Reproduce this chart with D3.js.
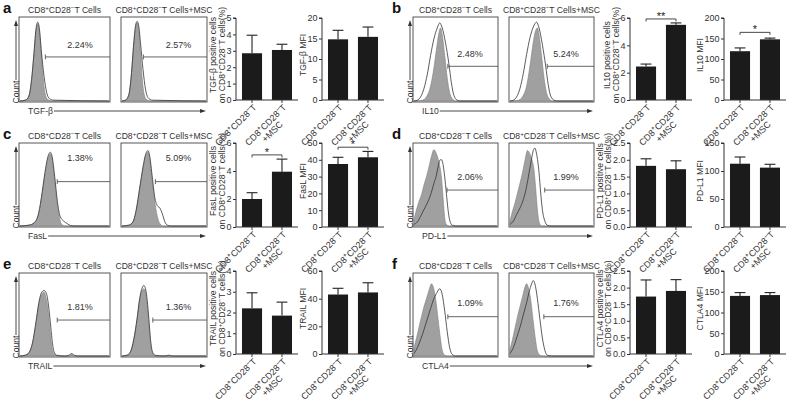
<!DOCTYPE html>
<html><head><meta charset="utf-8">
<script src="https://cdn.jsdelivr.net/npm/d3@7"></script>
<style>
html,body{margin:0;padding:0;background:#fff;}
svg{display:block;font-family:Arial,"Liberation Sans",Helvetica,sans-serif;}
</style></head><body>
<svg id="fig" width="789" height="403"></svg>
<script>
// ---------------- DATA ----------------
const panelLetters = ["a","b","c","d","e","f"];
const markers = ["TGF-β","IL10","FasL","PD-L1","TRAIL","CTLA4"];
const histTitles = ["CD8^+CD28^−T Cells","CD8^+CD28^−T Cells+MSC"];
const categories = ["CD8^+CD28^−T","CD8^+CD28^−T|+MSC"];
const gatePctCtrl = ["2.24%","2.48%","1.38%","2.06%","1.81%","1.09%"];
const gatePctMsc  = ["2.57%","5.24%","5.09%","1.99%","1.36%","1.76%"];

// percentage of positive cells (mean, SEM)
const posMean = [[2.85,3.05],[2.45,5.5],[2.0,3.95],[1.82,1.72],[2.2,1.85],[1.73,1.9]];
const posErr  = [[1.1,0.35],[0.18,0.14],[0.45,0.9],[0.21,0.25],[0.75,0.65],[0.5,0.34]];
const posMax  = [5,6,6,2.5,4,2.5];
const posTicks = [[0,1,2,3,4,5],[0,2,4,6],[0,2,4,6],[0,0.5,1,1.5,2,2.5],[0,1,2,3,4],[0,0.5,1,1.5,2,2.5]];
const posSig = ["","**","*","","",""];
const posSigLevel = [null,5.93,5.15,null,null,null];

// MFI (mean, SEM)
const mfiMean = [[14.8,15.4],[119,148],[37.5,41.5],[113,106],[43,44.5],[140,142]];
const mfiErr  = [[2.2,2.4],[8,3],[4,3.5],[12,6],[4.5,7],[8,6]];
const mfiMax  = [20,200,50,150,60,200];
const mfiTicks = [[0,5,10,15,20],[0,50,100,150,200],[0,10,20,30,40,50],[0,50,100,150],[0,20,40,60],[0,50,100,150,200]];
const mfiSig = ["","*","*","","",""];
const mfiSigLevel = [null,165,47.5,null,null,null];

// flow histograms: [relative fluorescence (log scale 0-1), relative count 0-1]
const histCtrlFill = [
 [[0,0],[0.06,0.01],[0.1,0.06],[0.13,0.25],[0.16,0.6],[0.18,0.85],[0.2,0.93],[0.22,0.82],[0.24,0.55],[0.26,0.28],[0.28,0.1],[0.31,0.02],[0.36,0],[1,0]],
 [[0,0],[0.1,0.01],[0.15,0.05],[0.2,0.18],[0.24,0.4],[0.27,0.62],[0.3,0.82],[0.32,0.88],[0.34,0.8],[0.37,0.55],[0.4,0.28],[0.43,0.1],[0.46,0.03],[0.5,0],[1,0]],
 [[0,0],[0.1,0.01],[0.16,0.04],[0.21,0.15],[0.25,0.4],[0.28,0.62],[0.31,0.8],[0.34,0.88],[0.36,0.82],[0.39,0.55],[0.42,0.25],[0.45,0.07],[0.48,0.01],[0.52,0],[1,0]],
 [[0,0.08],[0.03,0.2],[0.06,0.3],[0.09,0.38],[0.12,0.5],[0.15,0.6],[0.18,0.72],[0.21,0.85],[0.24,0.93],[0.27,0.88],[0.3,0.78],[0.33,0.6],[0.35,0.35],[0.37,0.1],[0.39,0.02],[0.42,0],[1,0]],
 [[0,0],[0.06,0.01],[0.1,0.04],[0.14,0.15],[0.18,0.4],[0.21,0.62],[0.24,0.74],[0.27,0.78],[0.29,0.72],[0.31,0.6],[0.33,0.4],[0.35,0.18],[0.37,0.05],[0.4,0.01],[0.45,0],[0.55,0],[0.58,0.02],[0.61,0],[1,0]],
 [[0,0.1],[0.03,0.22],[0.06,0.35],[0.09,0.48],[0.12,0.6],[0.15,0.7],[0.18,0.8],[0.21,0.88],[0.23,0.85],[0.26,0.7],[0.29,0.45],[0.32,0.2],[0.34,0.07],[0.37,0.01],[0.4,0],[1,0]]
];
const histCtrlLine = [
 [[0,0],[0.06,0.01],[0.1,0.06],[0.13,0.26],[0.16,0.62],[0.18,0.87],[0.2,0.95],[0.22,0.85],[0.24,0.6],[0.27,0.3],[0.3,0.1],[0.33,0.03],[0.38,0.01],[1,0]],
 [[0,0],[0.04,0.01],[0.08,0.05],[0.12,0.15],[0.16,0.32],[0.2,0.55],[0.24,0.75],[0.28,0.88],[0.31,0.94],[0.34,0.88],[0.38,0.7],[0.42,0.45],[0.45,0.22],[0.48,0.07],[0.52,0.01],[0.56,0],[1,0]],
 [[0,0],[0.1,0.01],[0.16,0.04],[0.21,0.16],[0.25,0.42],[0.28,0.65],[0.31,0.83],[0.34,0.9],[0.36,0.85],[0.39,0.6],[0.42,0.3],[0.45,0.12],[0.49,0.06],[0.53,0.03],[0.57,0.005],[0.62,0],[1,0]],
 [[0,0.02],[0.04,0.05],[0.08,0.12],[0.12,0.2],[0.16,0.28],[0.2,0.38],[0.24,0.52],[0.27,0.62],[0.29,0.72],[0.31,0.8],[0.33,0.81],[0.35,0.75],[0.37,0.6],[0.39,0.4],[0.41,0.2],[0.43,0.07],[0.46,0.01],[0.5,0],[1,0]],
 [[0,0],[0.06,0.01],[0.1,0.04],[0.14,0.16],[0.18,0.42],[0.21,0.64],[0.24,0.77],[0.27,0.8],[0.3,0.75],[0.32,0.62],[0.34,0.42],[0.36,0.2],[0.38,0.06],[0.41,0.01],[0.5,0],[0.55,0.01],[0.58,0.03],[0.61,0.01],[0.65,0],[1,0]],
 [[0,0.03],[0.04,0.1],[0.08,0.2],[0.12,0.32],[0.16,0.45],[0.2,0.58],[0.24,0.7],[0.28,0.78],[0.31,0.82],[0.34,0.75],[0.37,0.55],[0.4,0.3],[0.43,0.1],[0.46,0.02],[0.5,0],[1,0]]
];
const histMscFill = [
 [[0,0],[0.04,0.01],[0.08,0.07],[0.11,0.3],[0.14,0.68],[0.16,0.88],[0.18,0.94],[0.2,0.85],[0.22,0.58],[0.24,0.28],[0.26,0.1],[0.29,0.02],[0.34,0],[1,0]],
 [[0,0],[0.1,0.01],[0.15,0.05],[0.2,0.18],[0.24,0.42],[0.27,0.64],[0.3,0.82],[0.33,0.88],[0.35,0.8],[0.38,0.55],[0.41,0.28],[0.44,0.1],[0.47,0.03],[0.51,0],[1,0]],
 [[0,0],[0.08,0.01],[0.13,0.05],[0.17,0.2],[0.21,0.45],[0.25,0.7],[0.28,0.85],[0.31,0.9],[0.33,0.82],[0.36,0.55],[0.39,0.3],[0.42,0.12],[0.45,0.03],[0.49,0],[1,0]],
 [[0,0.06],[0.03,0.18],[0.06,0.28],[0.09,0.4],[0.12,0.52],[0.15,0.65],[0.18,0.8],[0.21,0.92],[0.23,0.9],[0.26,0.82],[0.29,0.68],[0.31,0.45],[0.33,0.2],[0.35,0.05],[0.38,0],[1,0]],
 [[0,0],[0.06,0.01],[0.1,0.05],[0.14,0.2],[0.18,0.45],[0.21,0.68],[0.24,0.8],[0.26,0.82],[0.28,0.78],[0.3,0.62],[0.32,0.38],[0.34,0.15],[0.36,0.04],[0.4,0],[1,0]],
 [[0,0.08],[0.03,0.2],[0.06,0.34],[0.09,0.48],[0.12,0.6],[0.15,0.72],[0.18,0.84],[0.2,0.88],[0.22,0.84],[0.25,0.68],[0.28,0.42],[0.31,0.18],[0.33,0.06],[0.36,0.01],[0.4,0],[1,0]]
];
const histMscLine = [
 [[0,0],[0.04,0.01],[0.08,0.07],[0.11,0.3],[0.14,0.7],[0.16,0.9],[0.18,0.96],[0.2,0.9],[0.22,0.7],[0.25,0.38],[0.28,0.14],[0.31,0.04],[0.36,0.01],[1,0]],
 [[0,0],[0.04,0.01],[0.08,0.05],[0.12,0.15],[0.16,0.33],[0.2,0.56],[0.24,0.76],[0.28,0.89],[0.32,0.95],[0.35,0.88],[0.39,0.68],[0.43,0.42],[0.46,0.2],[0.49,0.06],[0.53,0.01],[0.57,0],[1,0]],
 [[0,0],[0.08,0.01],[0.13,0.05],[0.17,0.2],[0.21,0.46],[0.25,0.72],[0.28,0.87],[0.31,0.92],[0.33,0.85],[0.36,0.6],[0.39,0.35],[0.42,0.25],[0.45,0.22],[0.48,0.15],[0.51,0.05],[0.54,0.01],[0.58,0],[1,0]],
 [[0,0.02],[0.04,0.06],[0.08,0.14],[0.12,0.22],[0.16,0.32],[0.2,0.48],[0.23,0.65],[0.26,0.82],[0.28,0.92],[0.3,0.95],[0.32,0.88],[0.35,0.65],[0.37,0.4],[0.39,0.2],[0.42,0.06],[0.45,0.01],[0.5,0],[1,0]],
 [[0,0],[0.06,0.01],[0.1,0.05],[0.14,0.2],[0.18,0.46],[0.21,0.7],[0.24,0.83],[0.26,0.86],[0.28,0.82],[0.3,0.68],[0.32,0.45],[0.34,0.2],[0.36,0.06],[0.39,0.01],[0.5,0],[0.56,0.01],[0.6,0],[1,0]],
 [[0,0.03],[0.04,0.1],[0.08,0.22],[0.12,0.35],[0.16,0.5],[0.2,0.65],[0.23,0.78],[0.26,0.88],[0.28,0.92],[0.3,0.88],[0.33,0.7],[0.36,0.45],[0.39,0.22],[0.42,0.07],[0.45,0.01],[0.5,0],[1,0]]
];

// ---------------- LAYOUT ----------------
const cols = [
 {box1:[19,110], box2:[121,207], ax1:236, ax2:322, letterX:3},
 {box1:[413,498], box2:[509,594], ax1:630, ax2:724, letterX:392}
];
const rows = [
 {boxTop:17, boxBot:102, plotTop:18, plotBot:100},
 {boxTop:143, boxBot:227, plotTop:143, plotBot:227},
 {boxTop:273, boxBot:357, plotTop:271, plotBot:354}
];
// [gate start frac box1, box2, gate line y frac, text y frac]
const gateLayout = [[0.29,0.26,0.47,0.33],[0.41,0.45,0.58,0.43],[0.42,0.40,0.46,0.18],[0.40,0.42,0.56,0.40],[0.42,0.37,0.56,0.40],[0.41,0.41,0.52,0.36]];

const FS = 8.6;
const TXT = "#333";
const svg = d3.select("#fig");

function rich(sel, str, fs){
  const parts = str.split(/(\^.)/).filter(p=>p.length);
  let up = false;
  const shift = fs*0.38;
  parts.forEach(p=>{
    if(p[0]==="^"){
      sel.append("tspan").attr("dy", up?0:-shift).attr("font-size", fs*0.72).text(p[1]);
      up = true;
    } else {
      sel.append("tspan").attr("dy", up?shift:0).text(p);
      up = false;
    }
  });
  return sel;
}

const lineGen = (xs, ys) => d3.line().x(d=>xs(d[0])).y(d=>ys(d[1])).curve(d3.curveMonotoneX);
const areaGen = (xs, ys) => d3.area().x(d=>xs(d[0])).y0(ys(0)).y1(d=>ys(d[1])).curve(d3.curveMonotoneX);

function arrowHead(g, x, y, dir){
  const p = dir==="up" ? `M${x-2},${y+6}L${x},${y}L${x+2},${y+6}Z` : `M${x-6},${y-2}L${x},${y}L${x-6},${y+2}Z`;
  g.append("path").attr("d",p).attr("fill","#333");
}

function drawHist(g, i, which, row, box){
  const [x0,x1] = box;
  const xs = d3.scaleLinear().domain([0,1]).range([x0+1, x1-1]);
  const ys = d3.scaleLinear().domain([0,1]).range([row.boxBot-1, row.boxTop+1]);
  const fill = which===0 ? histCtrlFill[i] : histMscFill[i];
  const line = which===0 ? histCtrlLine[i] : histMscLine[i];
  g.append("path").attr("d", areaGen(xs,ys)(fill)).attr("fill","#a0a0a0").attr("stroke","#808080").attr("stroke-width",0.6);
  g.append("path").attr("d", lineGen(xs,ys)(line)).attr("fill","none").attr("stroke","#333").attr("stroke-width",0.8);
  g.append("rect").attr("x",x0).attr("y",row.boxTop).attr("width",x1-x0).attr("height",row.boxBot-row.boxTop)
    .attr("fill","none").attr("stroke","#444").attr("stroke-width",0.9);
  rich(g.append("text").attr("x",(x0+x1)/2).attr("y",row.boxTop-4).attr("text-anchor","middle")
    .attr("font-size",FS).attr("fill",TXT), histTitles[which], FS);
  const gl = gateLayout[i];
  const gx = x0 + (x1-x0)*gl[which];
  const gy = row.boxTop + (row.boxBot-row.boxTop)*gl[2];
  g.append("line").attr("x1",gx).attr("x2",x1).attr("y1",gy).attr("y2",gy).attr("stroke","#555").attr("stroke-width",0.9);
  g.append("line").attr("x1",gx).attr("x2",gx).attr("y1",gy-2.5).attr("y2",gy+2.5).attr("stroke","#555").attr("stroke-width",0.9);
  const ty = row.boxTop + (row.boxBot-row.boxTop)*gl[3] + 3;
  g.append("text").attr("x", x0+(x1-x0)*0.67).attr("y",ty).attr("text-anchor","middle")
    .attr("font-size",FS+0.4).attr("fill",TXT).text(which===0?gatePctCtrl[i]:gatePctMsc[i]);
}

function drawBars(g, i, axX, row, means, errs, ymax, ticks, sig, sigLevel, title, twoLine){
  const xs = d3.scaleBand().domain(categories).range([axX, axX+62]).paddingInner(0.33).paddingOuter(0.2);
  const ys = d3.scaleLinear().domain([0, ymax]).range([row.plotBot, row.plotTop]);
  const fmt = ticks.some(t=>t%1!==0) ? d3.format(".1f") : d3.format("d");
  g.selectAll(null).data(categories).enter().append("rect")
    .attr("x", d=>xs(d)).attr("width", xs.bandwidth())
    .attr("y", (d,k)=>ys(means[k])).attr("height",(d,k)=>ys(0)-ys(means[k]))
    .attr("fill","#1b1b1b");
  categories.forEach((c,k)=>{
    const cx = xs(c)+xs.bandwidth()/2;
    const top = ys(means[k]+errs[k]);
    g.append("line").attr("x1",cx).attr("x2",cx).attr("y1",ys(means[k])).attr("y2",top).attr("stroke","#222").attr("stroke-width",1.1);
    g.append("line").attr("x1",cx-xs.bandwidth()*0.27).attr("x2",cx+xs.bandwidth()*0.27).attr("y1",top).attr("y2",top).attr("stroke","#222").attr("stroke-width",1.1);
  });
  const yAxis = d3.axisLeft(ys).tickValues(ticks).tickSize(3).tickPadding(1.5).tickFormat(fmt);
  const ga = g.append("g").attr("transform",`translate(${axX},0)`).call(yAxis);
  ga.select(".domain").attr("stroke","#333").attr("d",`M-3,${ys(ymax)}H0V${ys(0)}`);
  ga.selectAll(".tick line").attr("stroke","#333");
  ga.selectAll(".tick text").attr("font-size",FS+0.4).attr("fill",TXT).attr("font-family",null);
  let maxW = 0;
  ga.selectAll(".tick text").each(function(){ maxW = Math.max(maxW, this.getComputedTextLength()); });
  g.append("line").attr("x1",axX).attr("x2",axX+62).attr("y1",ys(0)).attr("y2",ys(0)).attr("stroke","#333");
  categories.forEach(c=>{
    const cx = xs(c)+xs.bandwidth()/2;
    g.append("line").attr("x1",cx).attr("x2",cx).attr("y1",ys(0)).attr("y2",ys(0)+3).attr("stroke","#333");
  });
  categories.forEach(c=>{
    const cx = xs(c)+xs.bandwidth()/2;
    const lines = c.split("|");
    const lg = g.append("g").attr("transform",`translate(${cx+5},${ys(0)+8}) rotate(-45)`);
    const t1 = rich(lg.append("text").attr("text-anchor","end").attr("font-size",FS+0.4).attr("fill",TXT), lines[0], FS+0.4);
    if(lines[1]){
      const L = t1.node().getComputedTextLength();
      lg.append("text").attr("x",-L/2).attr("y",(FS+0.4)*1.05).attr("text-anchor","middle")
        .attr("font-size",FS+0.4).attr("fill",TXT).text(lines[1]);
    }
  });
  const cy = (row.plotTop+row.plotBot)/2 - 4;
  const bx = axX - 3 - 1.5 - maxW - 1.5;
  if(twoLine){
    rich(g.append("text").attr("transform",`translate(${bx},${cy}) rotate(-90)`).attr("text-anchor","middle")
      .attr("font-size",FS).attr("fill",TXT), "on CD8^+CD28^−T cells(%)", FS);
    g.append("text").attr("transform",`translate(${bx-8.5},${cy}) rotate(-90)`).attr("text-anchor","middle")
      .attr("font-size",FS).attr("fill",TXT).text(title);
  } else {
    g.append("text").attr("transform",`translate(${bx},${cy}) rotate(-90)`).attr("text-anchor","middle")
      .attr("font-size",FS).attr("fill",TXT).text(title);
  }
  if(sig){
    const xa = xs(categories[0])+xs.bandwidth()/2, xb = xs(categories[1])+xs.bandwidth()/2;
    const by = ys(sigLevel);
    g.append("path").attr("d",`M${xa},${by+2.5}V${by}H${xb}V${by+2.5}`).attr("fill","none").attr("stroke","#333").attr("stroke-width",0.9);
    g.append("text").attr("x",(xa+xb)/2).attr("y",by+1).attr("text-anchor","middle").attr("font-size",11).attr("fill","#222").text(sig);
  }
}

panelLetters.forEach((L,i)=>{
  const col = cols[i%2], row = rows[Math.floor(i/2)];
  const g = svg.append("g");
  g.append("text").attr("x",col.letterX).attr("y",row.boxTop-4).attr("font-size",15).attr("font-weight","bold").attr("fill","#111").text(L);
  drawHist(g, i, 0, row, col.box1);
  drawHist(g, i, 1, row, col.box2);
  const vx = col.box1[0]-3;
  g.append("line").attr("x1",vx).attr("x2",vx).attr("y1",row.boxBot-22).attr("y2",row.boxTop+6).attr("stroke","#333").attr("stroke-width",0.9);
  arrowHead(g, vx, row.boxTop+3, "up");
  g.append("text").attr("transform",`translate(${vx+3},${row.boxBot-10}) rotate(-90)`).attr("text-anchor","middle")
    .attr("font-size",FS).attr("fill",TXT).text("Count");
  const hy = row.boxBot + 9;
  const mt = g.append("text").attr("x",col.box1[0]+9).attr("y",hy+3).attr("font-size",FS).attr("fill",TXT).text(markers[i]);
  const mw = mt.node().getComputedTextLength();
  g.append("line").attr("x1",col.box1[0]+9+mw+1).attr("x2",col.box2[1]-4).attr("y1",hy).attr("y2",hy).attr("stroke","#333").attr("stroke-width",0.9);
  arrowHead(g, col.box2[1]-1, hy, "right");
  drawBars(g, i, col.ax1, row, posMean[i], posErr[i], posMax[i], posTicks[i], posSig[i], posSigLevel[i], markers[i]+" positive cells", true);
  drawBars(g, i, col.ax2, row, mfiMean[i], mfiErr[i], mfiMax[i], mfiTicks[i], mfiSig[i], mfiSigLevel[i], markers[i]+" MFI", false);
});
</script>
</body></html>
